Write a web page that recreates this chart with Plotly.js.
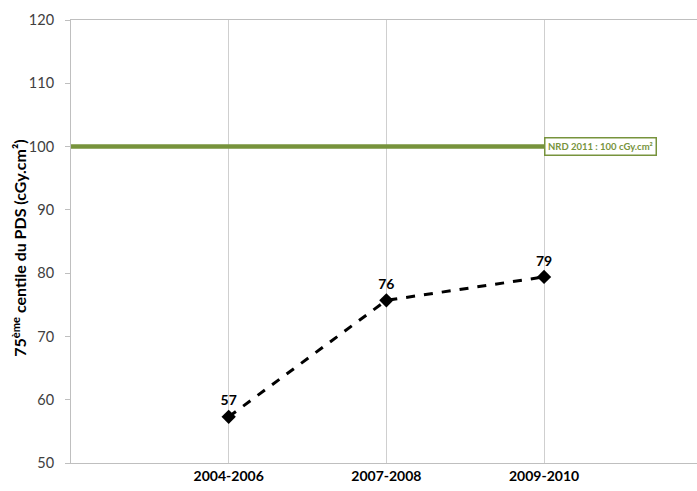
<!DOCTYPE html>
<html>
<head>
<meta charset="utf-8">
<script src="https://cdn.plot.ly/plotly-3.0.1.min.js"></script>
<style>html,body{margin:0;padding:0;background:#fff;}#chart{width:697px;height:491px;}</style>
</head>
<body>
<div id="chart"></div>
<script>
const categories = ["2004-2006", "2007-2008", "2009-2010"];
const catPositions = [1, 2, 3];
const values = [57.3, 75.7, 79.4];
const valueLabels = ["57", "76", "79"];
const nrdX = [0, 3];
const nrdY = [100, 100];
const nrdLabel = "NRD 2011 : 100 cGy.cm²";
const yTicks = [50, 60, 70, 80, 90, 100, 110, 120];
const yTitle = "75<sup>ème</sup> centile du PDS (cGy.cm²)";

const font = "Lato, 'Open Sans', sans-serif";

const traces = [
  {
    x: nrdX, y: nrdY, mode: "lines", type: "scatter",
    line: {color: "#77933C", width: 4.5},
    hoverinfo: "skip", showlegend: false
  },
  {
    x: catPositions, y: values, mode: "lines+markers+text", type: "scatter",
    line: {color: "#000", width: 3, dash: "dash"},
    marker: {symbol: "diamond", size: 11, color: "#000"},
    text: valueLabels, textposition: "top center",
    textfont: {family: font, size: 14, color: "#000", weight: "bold"},
    showlegend: false
  },
  {
    x: [null], y: [null], yaxis: "y2", type: "scatter", mode: "lines",
    showlegend: false, hoverinfo: "skip"
  }
];

const layout = {
  width: 697, height: 491,
  margin: {l: 71, r: 0, t: 20, b: 28},
  paper_bgcolor: "#fff", plot_bgcolor: "#fff",
  font: {family: font},
  xaxis: {
    range: [0, 3.97],
    tickvals: catPositions, ticktext: categories,
    showgrid: true, gridcolor: "#cfcfcf", gridwidth: 1,
    zeroline: false,
    showline: true, linecolor: "#bfbfbf", linewidth: 1, mirror: true,
    ticks: "",
    tickfont: {family: font, size: 14, color: "#000", weight: "bold"}
  },
  yaxis: {
    range: [50, 120],
    tickvals: yTicks,
    showgrid: false, zeroline: false,
    showline: true, linecolor: "#bfbfbf", linewidth: 1,
    ticks: "outside", ticklen: 13, tickcolor: "rgba(0,0,0,0)",
    tickfont: {family: font, size: 14.5, color: "#404040"},
    automargin: false
  },
  yaxis2: {
    overlaying: "y", side: "left",
    range: [50, 120],
    tickvals: yTicks,
    showgrid: false, zeroline: false, showline: false,
    showticklabels: false,
    ticks: "outside", ticklen: 5, tickcolor: "#bfbfbf",
    automargin: false
  },
  annotations: [
    {
      x: nrdX[1], y: nrdY[1], xref: "x", yref: "y",
      xanchor: "left", yanchor: "middle",
      text: "<b>" + nrdLabel + "</b>", showarrow: false,
      font: {family: font, size: 9.5, color: "#77933C"},
      bgcolor: "#fff", bordercolor: "#77933C", borderwidth: 1.5, borderpad: 2.5
    },
    {
      x: -0.0835, y: 0.485, xref: "paper", yref: "paper",
      xanchor: "center", yanchor: "middle", textangle: -90,
      text: "<b>" + yTitle + "</b>", showarrow: false,
      font: {family: font, size: 16, color: "#000"}
    }
  ]
};

Plotly.newPlot("chart", traces, layout, {displayModeBar: false, staticPlot: true});
</script>
</body>
</html>
